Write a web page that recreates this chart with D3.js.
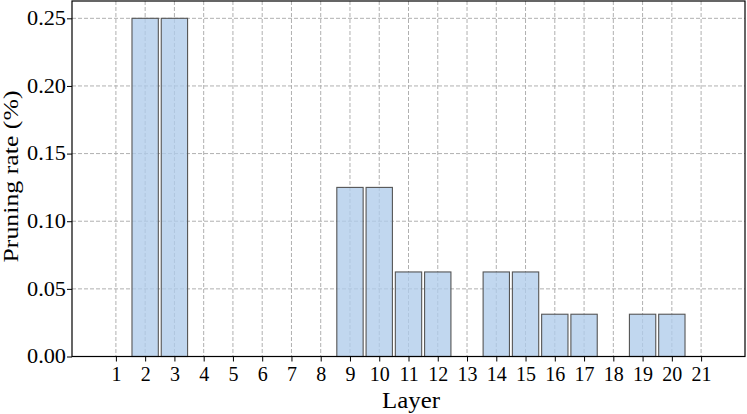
<!DOCTYPE html>
<html><head><meta charset="utf-8">
<script src="https://cdn.jsdelivr.net/npm/d3@7"></script>
<style>body{margin:0;background:#fff}svg{display:block}text{font-family:"Liberation Serif","Times New Roman",serif}</style>
</head><body>
<svg id="c" width="747" height="414"></svg>
<script>
const layers = [1,2,3,4,5,6,7,8,9,10,11,12,13,14,15,16,17,18,19,20,21];
const rates  = [0,0.25,0.25,0,0,0,0,0,0.125,0.125,0.0625,0.0625,0,0.0625,0.0625,0.03125,0.03125,0,0.03125,0.03125,0];
const yTicks = [0,0.05,0.10,0.15,0.20,0.25];

const svg = d3.select("#c");
const L=72, R=745, T=1, B=356.5;
const x = d3.scaleLinear().domain([-0.5,22.5]).range([L,R]);
const y = d3.scaleLinear().domain([0,0.2628]).range([B,T]);
const bw = x(0.9)-x(0);

const g = svg.append("g");
g.selectAll(".vg").data(layers).join("line")
  .attr("x1",d=>x(d)).attr("x2",d=>x(d)).attr("y1",T).attr("y2",B)
  .attr("stroke","#b0b0b0").attr("stroke-width",1).attr("stroke-dasharray","4,2");
g.selectAll(".hg").data(yTicks.slice(1)).join("line")
  .attr("x1",L).attr("x2",R).attr("y1",d=>y(d)).attr("y2",d=>y(d))
  .attr("stroke","#b0b0b0").attr("stroke-width",1).attr("stroke-dasharray","4,2");
g.selectAll(".bar").data(layers.map((l,i)=>({l,v:rates[i]})).filter(d=>d.v>0)).join("rect")
  .attr("x",d=>x(d.l)-bw/2).attr("width",bw)
  .attr("y",d=>y(d.v)).attr("height",d=>y(0)-y(d.v))
  .attr("fill","rgba(176,204,235,0.78)").attr("stroke","#555").attr("stroke-width",1.1);

const xa = svg.append("g").attr("transform",`translate(0,${B})`)
  .call(d3.axisBottom(x).tickValues(layers).tickFormat(d3.format("d")).tickSize(5).tickSizeOuter(0));
const ya = svg.append("g").attr("transform",`translate(${L},0)`)
  .call(d3.axisLeft(y).tickValues(yTicks).tickFormat(d3.format(".2f")).tickSize(5).tickSizeOuter(0));
[xa,ya].forEach(a=>{a.select(".domain").remove();a.selectAll("line").attr("stroke","#000");
  a.selectAll("text").attr("font-family","Liberation Serif, serif").attr("font-size",20).attr("fill","#000");});
xa.selectAll("text").attr("dy","0.95em").attr("y",5);
ya.selectAll("text").attr("x",-6).attr("textLength",39).attr("lengthAdjust","spacingAndGlyphs");

svg.append("rect").attr("x",L).attr("y",T).attr("width",R-L).attr("height",B-T)
  .attr("fill","none").attr("stroke","#000").attr("stroke-width",1.2);

svg.append("text").attr("x",411).attr("y",407.5).attr("text-anchor","middle")
  .attr("font-size",22.5).attr("textLength",58).attr("lengthAdjust","spacingAndGlyphs").text("Layer");
svg.append("text").attr("transform",`translate(17.5,176.5) rotate(-90)`).attr("text-anchor","middle")
  .attr("font-size",21.5).attr("textLength",172).attr("lengthAdjust","spacingAndGlyphs").text("Pruning rate (%)");
</script>
</body></html>
